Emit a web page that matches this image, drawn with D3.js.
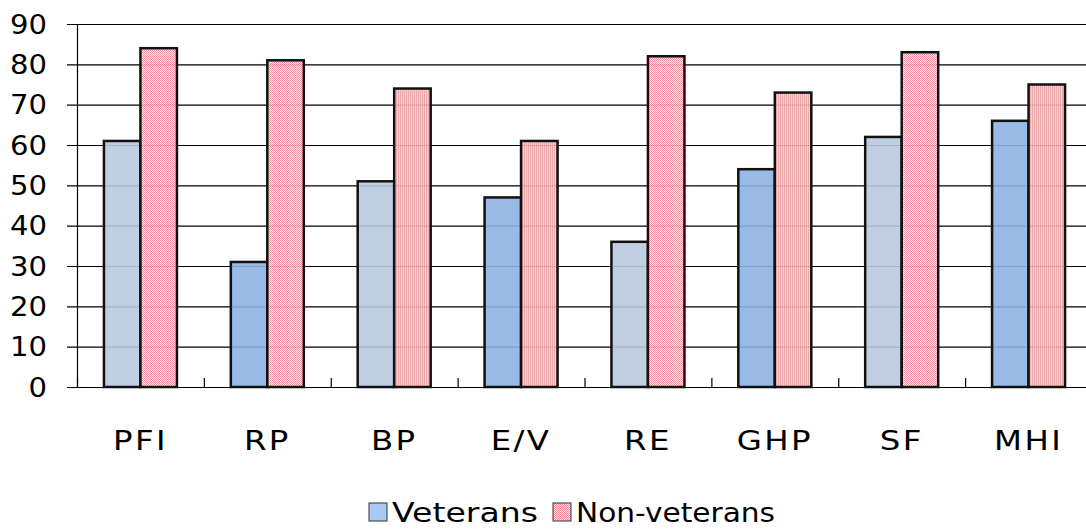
<!DOCTYPE html>
<html><head><meta charset="utf-8">
<script src="https://cdn.jsdelivr.net/npm/d3@7"></script>
<style>body{margin:0;background:#fff}svg{display:block}text{font-family:"DejaVu Sans",Verdana,sans-serif;fill:#000}</style>
</head><body><svg id="c" width="1086" height="529"></svg>
<script>
const categories = ["PFI","RP","BP","E/V","RE","GHP","SF","MHI"];
const veterans = [61,31,51,47,36,54,62,66];
const nonVeterans = [84,81,74,61,82,73,83,75];
const yTicks = [0,10,20,30,40,50,60,70,80,90];
const seriesNames = ["Veterans","Non-veterans"];
const vetFills = ["#b8c9de","#8db3e2","#b8c9de","#8db3e2","#b8c9de","#8db3e2","#b8c9de","#8db3e2"];
const nonFills = ["url(#chk)","url(#chk)","url(#vs)","url(#vs)","url(#chk)","url(#vs)","url(#chk)","url(#vs)"];

const svg = d3.select("#c");
const defs = svg.append("defs");
const chk = defs.append("pattern").attr("id","chk").attr("patternUnits","userSpaceOnUse").attr("width",2).attr("height",2);
chk.append("rect").attr("width",2).attr("height",2).attr("fill","#fde6e6");
chk.append("rect").attr("width",1).attr("height",1).attr("fill","#ee8a92");
chk.append("rect").attr("x",1).attr("y",1).attr("width",1).attr("height",1).attr("fill","#ee8a92");
const vs = defs.append("pattern").attr("id","vs").attr("patternUnits","userSpaceOnUse").attr("width",2).attr("height",2);
vs.append("rect").attr("width",2).attr("height",2).attr("fill","#f8c8c8");
vs.append("rect").attr("width",1).attr("height",2).attr("fill","#eca2a4");

const mLeft = 77, mRight = 1092, mTop = 24, mBottom = 387;
const x = d3.scaleBand().domain(categories).range([mLeft,mRight]).paddingInner(0).paddingOuter(0);
const y = d3.scaleLinear().domain([0,90]).range([mBottom,mTop]);
const barW = 36.5;

svg.append("g").selectAll("line").data(yTicks).join("line")
  .attr("x1",67).attr("x2",1086).attr("y1",d=>y(d)+0.5).attr("y2",d=>y(d)+0.5)
  .attr("stroke","#000").attr("stroke-width",1.2);

svg.append("line").attr("x1",mLeft+0.5).attr("x2",mLeft+0.5).attr("y1",mTop).attr("y2",mBottom).attr("stroke","#000").attr("stroke-width",1.2);
svg.append("g").selectAll("line").data(categories).join("line")
  .attr("x1",d=>x(d)+0.5).attr("x2",d=>x(d)+0.5).attr("y1",mBottom-9).attr("y2",mBottom)
  .attr("stroke","#000").attr("stroke-width",1.2);

const g = svg.append("g");
g.selectAll("rect.v").data(veterans).join("rect").attr("class","v")
  .attr("x",(d,i)=>x(categories[i])+x.bandwidth()/2-barW)
  .attr("y",d=>y(d)).attr("width",barW).attr("height",d=>mBottom-y(d))
  .attr("fill",(d,i)=>vetFills[i]).attr("fill-opacity",0.9).attr("stroke","#111").attr("stroke-width",2.5);
g.selectAll("rect.n").data(nonVeterans).join("rect").attr("class","n")
  .attr("x",(d,i)=>x(categories[i])+x.bandwidth()/2)
  .attr("y",d=>y(d)).attr("width",barW).attr("height",d=>mBottom-y(d))
  .attr("fill",(d,i)=>nonFills[i]).attr("fill-opacity",0.9).attr("stroke","#111").attr("stroke-width",2.5);

svg.append("g").selectAll("text").data(yTicks).join("text")
  .attr("transform",d=>`translate(47,${y(d)+9.5}) scale(1.12,1)`).attr("text-anchor","end").attr("font-size",26).text(d=>d);

svg.append("g").selectAll("text").data(categories).join("text")
  .attr("transform",d=>`translate(${x(d)+x.bandwidth()/2},450) scale(1.2,1)`).attr("text-anchor","middle")
  .attr("font-size",27).attr("letter-spacing",2).text(d=>d);

const lg = svg.append("g");
lg.append("rect").attr("x",369).attr("y",503).attr("width",18).attr("height",18).attr("fill","#a9cbf2").attr("stroke","#333").attr("stroke-width",1);
lg.append("text").attr("x",392).attr("y",522).attr("font-size",26).attr("textLength",146).attr("lengthAdjust","spacingAndGlyphs").text(seriesNames[0]);
lg.append("rect").attr("x",553).attr("y",503).attr("width",18).attr("height",18).attr("fill","url(#chk)").attr("stroke","#333").attr("stroke-width",1);
lg.append("text").attr("x",576).attr("y",522).attr("font-size",26).attr("textLength",199).attr("lengthAdjust","spacingAndGlyphs").text(seriesNames[1]);
</script></body></html>
